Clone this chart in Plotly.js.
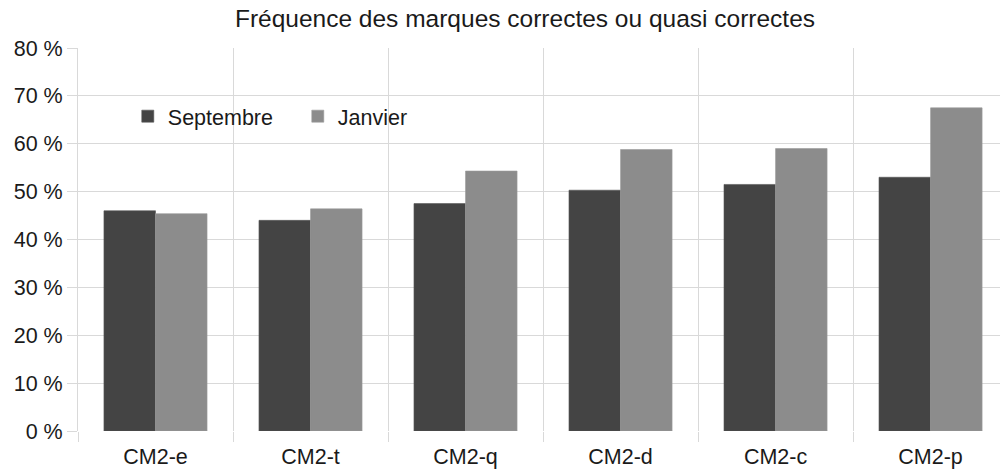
<!DOCTYPE html>
<html>
<head>
<meta charset="utf-8">
<script src="https://cdn.plot.ly/plotly-3.0.1.min.js"></script>
<style>html,body{margin:0;padding:0;background:#fff;}#chart{width:1000px;height:474px;}</style>
</head>
<body>
<div id="chart"></div>
<script>
const categories = ["CM2-e", "CM2-t", "CM2-q", "CM2-d", "CM2-c", "CM2-p"];
const septembre = [46.0, 44.0, 47.5, 50.3, 51.5, 53.0];
const janvier = [45.4, 46.4, 54.3, 58.8, 59.0, 67.5];
const yTickVals = [0, 10, 20, 30, 40, 50, 60, 70, 80];
const yTickText = yTickVals.map(v => v + " %");

const font = {family: "Liberation Sans, Arial, sans-serif", color: "#1a1a1a"};
const grid = "#d9d9d9";

const traces = [
  {type: "bar", name: "Septembre", x: categories, y: septembre,
   marker: {color: "#444444", line: {color: "#555555", width: 0.6}}},
  {type: "bar", name: "Janvier", x: categories, y: janvier,
   marker: {color: "#8c8c8c", line: {color: "#9a9a9a", width: 0.6}}}
];

const layout = {
  width: 1000, height: 474,
  margin: {l: 78, r: 0, t: 48, b: 43},
  paper_bgcolor: "#fff", plot_bgcolor: "#fff",
  font: Object.assign({size: 21}, font),
  title: {text: "Fréquence des marques correctes ou quasi correctes", x: 0.525, xref: "container", xanchor: "center", y: 0.962, yanchor: "middle",
          font: Object.assign({}, font, {size: 24.5})},
  barmode: "group", bargap: 0.335, bargroupgap: 0,
  showlegend: true,
  legend: {orientation: "h", x: 0.054, xanchor: "left", y: 0.822, yanchor: "middle",
           font: Object.assign({}, font, {size: 21.5}), bgcolor: "rgba(0,0,0,0)", entrywidth: 125, entrywidthmode: "pixels"},
  xaxis: {type: "category", range: [-0.5, 5.448], tickson: "boundaries", showgrid: true, gridcolor: grid, gridwidth: 1,
          ticks: "outside", ticklen: 10, tickcolor: grid, tickfont: Object.assign({}, font, {size: 21.5}),
          ticklabelstandoff: 10, showline: false, zeroline: false, fixedrange: true},
  yaxis: {range: [0, 80], tickvals: yTickVals, ticktext: yTickText, showgrid: true, gridcolor: grid, gridwidth: 1,
          ticks: "outside", ticklen: 10, tickcolor: grid, tickfont: Object.assign({}, font, {size: 21.5}),
          showline: true, linecolor: grid, zeroline: false, fixedrange: true}
};

Plotly.newPlot("chart", traces, layout, {displayModeBar: false, staticPlot: true});
</script>
</body>
</html>
